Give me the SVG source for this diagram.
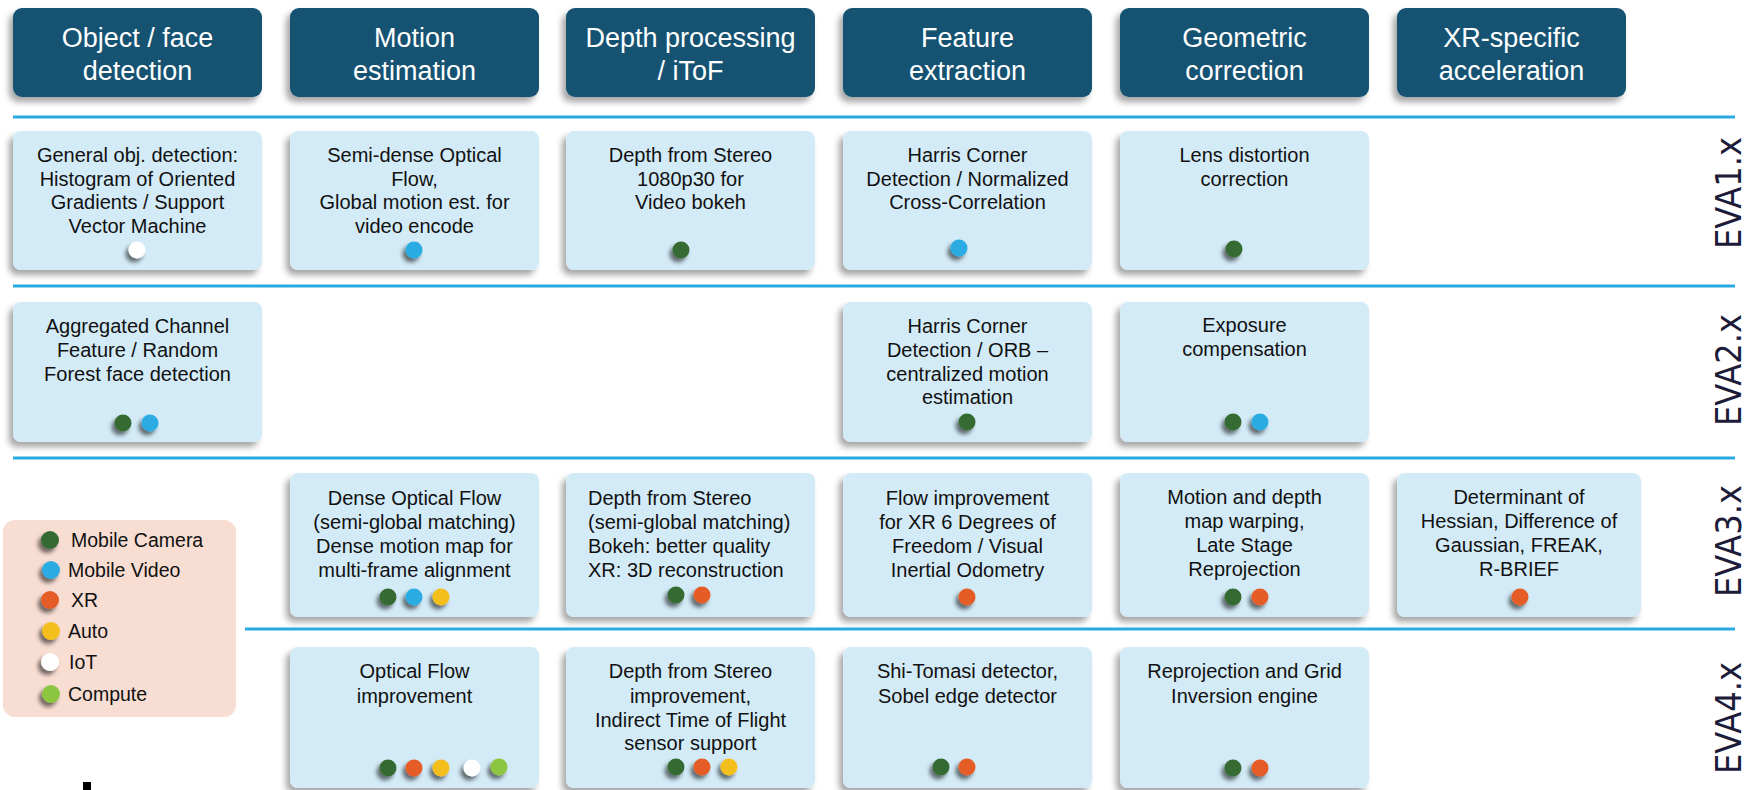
<svg xmlns="http://www.w3.org/2000/svg" width="1749" height="790" viewBox="0 0 1749 790">
<defs>
<filter id="sh" x="-10%" y="-10%" width="125%" height="130%"><feDropShadow dx="-4" dy="5" stdDeviation="3" flood-color="#000" flood-opacity="0.35"/></filter>
<filter id="dsh" x="-60%" y="-60%" width="220%" height="220%"><feDropShadow dx="-3" dy="4" stdDeviation="2" flood-color="#000" flood-opacity="0.55"/></filter>
<style>
.hd{fill:#135372;filter:url(#sh)}
.bx{fill:#D3EBF7;filter:url(#sh)}
.ht{font-family:"Liberation Sans",Arial,sans-serif;font-size:27px;fill:#fff;text-anchor:middle}
.t{font-family:"Liberation Sans",Arial,sans-serif;font-size:20px;fill:#111;text-anchor:middle}
.tl{font-family:"Liberation Sans",Arial,sans-serif;font-size:20px;fill:#111}
.lg{font-family:"Liberation Sans",Arial,sans-serif;font-size:19.5px;fill:#111}
.ev{font-family:"DejaVu Sans",sans-serif;font-size:35px;fill:#1C1C3A;text-anchor:middle}
.ln{stroke:#29ABE2;stroke-width:3;fill:none}
.d{filter:url(#dsh)}
.g{fill:#356A32}.b{fill:#29ABE2}.o{fill:#E55B25}.y{fill:#F4BF1A}.w{fill:#fff}.c{fill:#8CC63F}
</style>
</defs>
<rect width="1749" height="790" fill="#fff"/>

<g id="separators">
<line class="ln" x1="13" y1="117" x2="1735" y2="117"/>
<line class="ln" x1="13" y1="286" x2="1735" y2="286"/>
<line class="ln" x1="13" y1="458" x2="1735" y2="458"/>
<line class="ln" x1="245" y1="629" x2="1735" y2="629"/>
</g>

<g id="headers">
<g id="h1"><rect class="hd" x="13" y="8" width="249" height="89" rx="9"/><text class="ht" x="137.5" y="47">Object / face</text><text class="ht" x="137.5" y="80">detection</text></g>
<g id="h2"><rect class="hd" x="290" y="8" width="249" height="89" rx="9"/><text class="ht" x="414.5" y="47">Motion</text><text class="ht" x="414.5" y="80">estimation</text></g>
<g id="h3"><rect class="hd" x="566" y="8" width="249" height="89" rx="9"/><text class="ht" x="690.5" y="47">Depth processing</text><text class="ht" x="690.5" y="80">/ iToF</text></g>
<g id="h4"><rect class="hd" x="843" y="8" width="249" height="89" rx="9"/><text class="ht" x="967.5" y="47">Feature</text><text class="ht" x="967.5" y="80">extraction</text></g>
<g id="h5"><rect class="hd" x="1120" y="8" width="249" height="89" rx="9"/><text class="ht" x="1244.5" y="47">Geometric</text><text class="ht" x="1244.5" y="80">correction</text></g>
<g id="h6"><rect class="hd" x="1397" y="8" width="229" height="89" rx="9"/><text class="ht" x="1511.5" y="47">XR-specific</text><text class="ht" x="1511.5" y="80">acceleration</text></g>
</g>

<g id="eva-labels">
<text class="ev" transform="translate(1741,193) rotate(-90)" textLength="112" lengthAdjust="spacingAndGlyphs">EVA1.x</text>
<text class="ev" transform="translate(1741,370) rotate(-90)" textLength="112" lengthAdjust="spacingAndGlyphs">EVA2.x</text>
<text class="ev" transform="translate(1741,541) rotate(-90)" textLength="112" lengthAdjust="spacingAndGlyphs">EVA3.x</text>
<text class="ev" transform="translate(1741,718) rotate(-90)" textLength="112" lengthAdjust="spacingAndGlyphs">EVA4.x</text>
</g>

<g id="r1c1"><rect class="bx" x="13" y="131" width="249" height="139" rx="8"/>
<text class="t" x="137.5" y="162">General obj. detection:</text><text class="t" x="137.5" y="185.5">Histogram of Oriented</text><text class="t" x="137.5" y="209">Gradients / Support</text><text class="t" x="137.5" y="232.5">Vector Machine</text>
<circle class="d w" cx="137" cy="250" r="8.5"/></g>
<g id="r1c2"><rect class="bx" x="290" y="131" width="249" height="139" rx="8"/>
<text class="t" x="414.5" y="162">Semi-dense Optical</text><text class="t" x="414.5" y="185.5">Flow,</text><text class="t" x="414.5" y="209">Global motion est. for</text><text class="t" x="414.5" y="232.5">video encode</text>
<circle class="d b" cx="414" cy="250" r="8.5"/></g>
<g id="r1c3"><rect class="bx" x="566" y="131" width="249" height="139" rx="8"/>
<text class="t" x="690.5" y="162">Depth from Stereo</text><text class="t" x="690.5" y="185.5">1080p30 for</text><text class="t" x="690.5" y="209">Video bokeh</text>
<circle class="d g" cx="681" cy="250" r="8.5"/></g>
<g id="r1c4"><rect class="bx" x="843" y="131" width="249" height="139" rx="8"/>
<text class="t" x="967.5" y="162">Harris Corner</text><text class="t" x="967.5" y="185.5">Detection / Normalized</text><text class="t" x="967.5" y="209">Cross-Correlation</text>
<circle class="d b" cx="959" cy="248" r="8.5"/></g>
<g id="r1c5"><rect class="bx" x="1120" y="131" width="249" height="139" rx="8"/>
<text class="t" x="1244.5" y="162">Lens distortion</text><text class="t" x="1244.5" y="185.5">correction</text>
<circle class="d g" cx="1234" cy="249" r="8.5"/></g>

<g id="r2c1"><rect class="bx" x="13" y="302" width="249" height="140" rx="8"/>
<text class="t" x="137.5" y="333">Aggregated Channel</text><text class="t" x="137.5" y="357">Feature / Random</text><text class="t" x="137.5" y="381">Forest face detection</text>
<circle class="d g" cx="123" cy="423" r="8.5"/><circle class="d b" cx="150" cy="423" r="8.5"/></g>
<g id="r2c4"><rect class="bx" x="843" y="302" width="249" height="140" rx="8"/>
<text class="t" x="967.5" y="333">Harris Corner</text><text class="t" x="967.5" y="357">Detection / ORB –</text><text class="t" x="967.5" y="381">centralized motion</text><text class="t" x="967.5" y="404">estimation</text>
<circle class="d g" cx="967" cy="422" r="8.5"/></g>
<g id="r2c5"><rect class="bx" x="1120" y="302" width="249" height="140" rx="8"/>
<text class="t" x="1244.5" y="332">Exposure</text><text class="t" x="1244.5" y="355.5">compensation</text>
<circle class="d g" cx="1233" cy="422" r="8.5"/><circle class="d b" cx="1260" cy="422" r="8.5"/></g>

<g id="r3c2"><rect class="bx" x="290" y="473" width="249" height="144" rx="8"/>
<text class="t" x="414.5" y="505">Dense Optical Flow</text><text class="t" x="414.5" y="529">(semi-global matching)</text><text class="t" x="414.5" y="553">Dense motion map for</text><text class="t" x="414.5" y="577">multi-frame alignment</text>
<circle class="d g" cx="388" cy="597" r="8.5"/><circle class="d b" cx="414" cy="597" r="8.5"/><circle class="d y" cx="441" cy="597" r="8.5"/></g>
<g id="r3c3"><rect class="bx" x="566" y="473" width="249" height="144" rx="8"/>
<text class="tl" x="588" y="505">Depth from Stereo</text><text class="tl" x="588" y="529">(semi-global matching)</text><text class="tl" x="588" y="553">Bokeh: better quality</text><text class="tl" x="588" y="577">XR: 3D reconstruction</text>
<circle class="d g" cx="676" cy="595" r="8.5"/><circle class="d o" cx="702" cy="595" r="8.5"/></g>
<g id="r3c4"><rect class="bx" x="843" y="473" width="249" height="144" rx="8"/>
<text class="t" x="967.5" y="505">Flow improvement</text><text class="t" x="967.5" y="529">for XR 6 Degrees of</text><text class="t" x="967.5" y="553">Freedom / Visual</text><text class="t" x="967.5" y="577">Inertial Odometry</text>
<circle class="d o" cx="967" cy="597" r="8.5"/></g>
<g id="r3c5"><rect class="bx" x="1120" y="473" width="249" height="144" rx="8"/>
<text class="t" x="1244.5" y="504">Motion and depth</text><text class="t" x="1244.5" y="528">map warping,</text><text class="t" x="1244.5" y="552">Late Stage</text><text class="t" x="1244.5" y="576">Reprojection</text>
<circle class="d g" cx="1233" cy="597" r="8.5"/><circle class="d o" cx="1260" cy="597" r="8.5"/></g>
<g id="r3c6"><rect class="bx" x="1397" y="473" width="244" height="144" rx="8"/>
<text class="t" x="1519" y="504">Determinant of</text><text class="t" x="1519" y="528">Hessian, Difference of</text><text class="t" x="1519" y="552">Gaussian, FREAK,</text><text class="t" x="1519" y="576">R-BRIEF</text>
<circle class="d o" cx="1520" cy="597" r="8.5"/></g>

<g id="r4c2"><rect class="bx" x="290" y="647" width="249" height="141" rx="8"/>
<text class="t" x="414.5" y="678">Optical Flow</text><text class="t" x="414.5" y="703">improvement</text>
<circle class="d g" cx="388" cy="768" r="8.5"/><circle class="d o" cx="414" cy="768" r="8.5"/><circle class="d y" cx="441" cy="768" r="8.5"/><circle class="d w" cx="472" cy="768" r="8.5"/><circle class="d c" cx="499" cy="767" r="8.5"/></g>
<g id="r4c3"><rect class="bx" x="566" y="647" width="249" height="141" rx="8"/>
<text class="t" x="690.5" y="678">Depth from Stereo</text><text class="t" x="690.5" y="703">improvement,</text><text class="t" x="690.5" y="727">Indirect Time of Flight</text><text class="t" x="690.5" y="750">sensor support</text>
<circle class="d g" cx="676" cy="767" r="8.5"/><circle class="d o" cx="702" cy="767" r="8.5"/><circle class="d y" cx="729" cy="767" r="8.5"/></g>
<g id="r4c4"><rect class="bx" x="843" y="647" width="249" height="141" rx="8"/>
<text class="t" x="967.5" y="678">Shi-Tomasi detector,</text><text class="t" x="967.5" y="703">Sobel edge detector</text>
<circle class="d g" cx="941" cy="767" r="8.5"/><circle class="d o" cx="967" cy="767" r="8.5"/></g>
<g id="r4c5"><rect class="bx" x="1120" y="647" width="249" height="141" rx="8"/>
<text class="t" x="1244.5" y="678">Reprojection and Grid</text><text class="t" x="1244.5" y="703">Inversion engine</text>
<circle class="d g" cx="1233" cy="768" r="8.5"/><circle class="d o" cx="1260" cy="768" r="8.5"/></g>

<g id="legend">
<rect x="3" y="520" width="233" height="197" rx="12" fill="#F8DDD3"/>
<circle class="d g" cx="50" cy="540" r="9"/><text class="lg" x="71" y="547">Mobile Camera</text>
<circle class="d b" cx="51" cy="570" r="9"/><text class="lg" x="68" y="577">Mobile Video</text>
<circle class="d o" cx="50" cy="600" r="9"/><text class="lg" x="71" y="607">XR</text>
<circle class="d y" cx="51" cy="631" r="9"/><text class="lg" x="68" y="638">Auto</text>
<circle class="d w" cx="50" cy="662" r="9"/><text class="lg" x="69" y="669">IoT</text>
<circle class="d c" cx="51" cy="694" r="9"/><text class="lg" x="68" y="701">Compute</text>
</g>

<rect id="fragment" x="83" y="782" width="8" height="8" fill="#000"/>
</svg>
